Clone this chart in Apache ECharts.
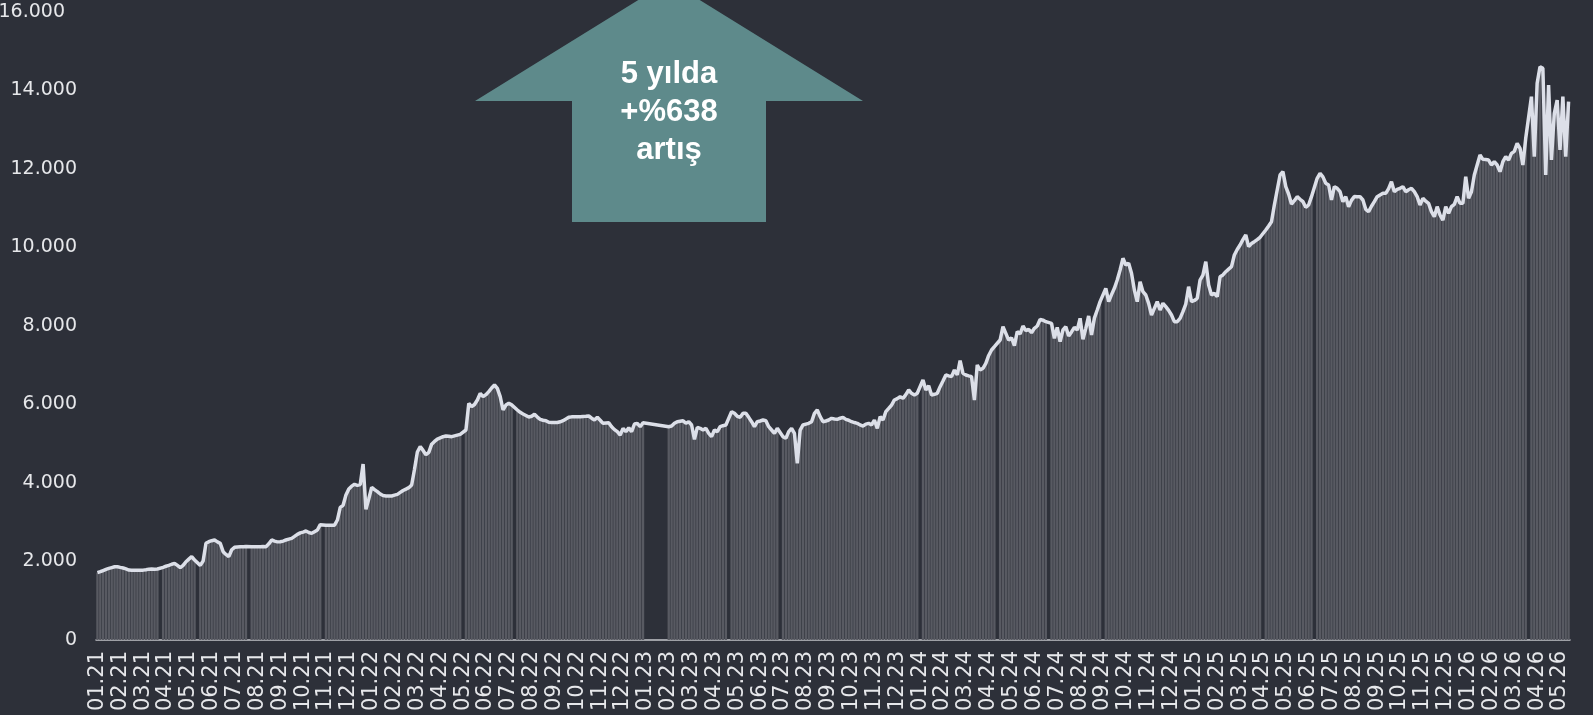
<!DOCTYPE html>
<html>
<head>
<meta charset="utf-8">
<title>5 yılda +%638 artış</title>
<script src="https://cdn.jsdelivr.net/npm/echarts@6/dist/echarts.min.js"></script>
<style>
  html, body { margin: 0; padding: 0; background: #2d3039; }
  #chart { width: 1593px; height: 715px; }
</style>
</head>
<body>
<div id="chart"></div>
<script>
  // x ekseni: ay etiketleri
  const monthLabels = [
    '01.21','02.21','03.21','04.21','05.21','06.21','07.21','08.21','09.21','10.21','11.21','12.21',
    '01.22','02.22','03.22','04.22','05.22','06.22','07.22','08.22','09.22','10.22','11.22','12.22',
    '01.23','02.23','03.23','04.23','05.23','06.23','07.23','08.23','09.23','10.23','11.23','12.23',
    '01.24','02.24','03.24','04.24','05.24','06.24','07.24','08.24','09.24','10.24','11.24','12.24',
    '01.25','02.25','03.25','04.25','05.25','06.25','07.25','08.25','09.25','10.25','11.25','12.25',
    '01.26','02.26','03.26','04.26','05.26'
  ];

  // her ay icin ~8 okuma (null = tatil / veri yok)
  const values2021 = [
    [1715, 1740, 1770, 1800, 1825, 1845, 1865, 1868],
    [1850, 1834, 1810, 1783, 1780, 1775, 1775, 1778],
    [1780, 1790, 1805, 1810, 1805, 1810, null, 1850],
    [1880, 1900, 1930, 1953, 1900, 1843, 1900, 1995],
    [2060, 2123, 2038, null, 1902, 2013, 2463, 2505],
    [2530, 2548, 2500, 2463, 2250, 2180, 2123, 2300],
    [2361, 2370, 2378, 2378, 2380, null, 2378, 2375],
    [2375, 2378, 2380, 2378, 2450, 2548, 2520, 2500],
    [2505, 2520, 2548, 2570, 2590, 2640, 2692, 2730],
    [2750, 2777, 2740, 2718, 2760, 2802, 2938, null],
    [2922, 2922, 2925, 2925, 3057, 3380, 3431, 3694],
    [3850, 3920, 3966, 3940, 3960, 4484, 3329, 3600]
  ];
  const values2022 = [
    [3890, 3830, 3780, 3720, 3680, 3669, 3670, 3669],
    [3690, 3710, 3760, 3810, 3845, 3881, 3950, 4350],
    [4790, 4926, 4830, 4720, 4780, 4990, 5060, 5120],
    [5150, 5180, 5197, 5190, 5180, 5200, 5220, 5240],
    [null, 5350, 6030, 5944, 6000, 6115, 6285, 6199],
    [6250, 6327, 6420, 6497, 6412, 6199, 5860, 5987],
    [6030, 5990, null, 5860, 5800, 5758, 5720, 5680],
    [5700, 5750, 5680, 5622, 5600, 5588, 5546, 5540],
    [5540, 5540, 5560, 5588, 5630, 5673, 5685, 5690],
    [5690, 5690, 5695, 5700, 5707, 5650, 5605, 5673],
    [5600, 5520, 5530, 5537, 5435, 5360, 5307, 5223],
    [5393, 5307, 5410, 5307, 5503, 5520, 5435, 5537]
  ];
  const values2023 = [
    [null, null, null, null, null, null, null, null],
    [5435, 5450, 5520, 5562, 5575, 5588, 5520, 5562],
    [5478, 5113, 5418, 5393, 5350, 5393, 5265, 5180],
    [5350, 5308, 5435, 5460, 5478, null, 5817, 5775],
    [5700, 5673, 5775, 5775, 5673, 5562, 5435, 5562],
    [5580, 5605, 5588, 5435, 5350, 5265, 5393, null],
    [5180, 5138, 5308, 5393, 5265, 4501, 5350, 5478],
    [5500, 5520, 5562, 5775, 5860, 5690, 5562, 5580],
    [5605, 5647, 5630, 5622, 5650, 5673, 5622, 5600],
    [5562, 5540, 5520, 5480, 5452, 5500, 5520, 5478],
    [5605, 5393, 5690, 5605, 5817, 5900, 5987, 6115],
    [6150, 6199, 6157, 6250, 6369, 6285, 6242, 6285]
  ];
  const values2024 = [
    [null, 6624, 6369, 6480, 6242, 6260, 6285, 6454],
    [6600, 6752, 6730, 6709, 6879, 6752, 7116, 6794],
    [6752, 6730, 6709, 6115, 7006, 6879, 6922, 7049],
    [7250, 7389, 7473, null, 7643, 7982, 7813, 7640],
    [7700, 7500, 7855, 7800, 8000, 7881, 7915, 7830],
    [7941, 8000, 8170, 8150, 8110, null, 8068, 7686],
    [7966, 7601, 7898, 7983, 7745, 7850, 7966, 7898],
    [8195, 7661, 7941, 8255, 7771, 8200, 8408, 8620],
    [null, 8960, 8620, 8800, 8960, 9172, 9427, 9725],
    [9554, 9597, 9342, 8917, 8620, 9130, 8874, 8790],
    [8578, 8280, 8450, 8620, 8408, 8578, 8493, 8400],
    [8280, 8110, 8110, 8195, 8365, 8560, 9002, 8620]
  ];
  const values2025 = [
    [8650, 8705, 9172, 9299, 9639, 9045, 8790, 8833],
    [8747, 9256, 9300, 9384, 9450, 9511, 9809, 9950],
    [10064, 10200, 10318, 10021, 10100, 10148, 10200, 10260],
    [null, 10446, 10550, 10658, 11083, 11465, 11847, 11932],
    [11550, 11363, 11108, 11193, 11295, 11230, 11168, 11024],
    [11083, 11295, null, 11762, 11890, 11800, 11635, 11592],
    [11210, 11550, 11508, 11422, 11168, 11295, 11040, 11200],
    [11300, 11295, 11295, 11210, 10972, 10913, 11050, 11168],
    [11295, 11338, 11380, 11380, 11500, 11677, 11422, 11480],
    [11508, 11550, 11422, 11470, 11508, 11422, 11295, 11083],
    [11253, 11180, 11125, 10913, 10785, 11040, 10828, 10700],
    [11040, 10870, 11040, 11100, 11295, 11125, 11125, 11805]
  ];
  const values2026 = [
    [11253, 11422, 11847, 12100, 12357, 12246, 12240, 12229],
    [12102, 12187, 12102, 11932, 12187, 12314, 12229, 12399],
    [12450, 12654, 12527, 12102, 12781, null, 13843, 12314],
    [14183, 14607, 14565, 11847, 14140, 12229, 13418, 13758],
    [12484, 13843, 12314, 13715]
  ];

  // y ekseni
  const yMin = 0;
  const yMax = 16000;
  const yStep = 2000;

  const allMonths = [].concat(values2021, values2022, values2023, values2024, values2025, values2026);
  const categories = [];
  const seriesData = [];
  allMonths.forEach(function (month, i) {
    month.forEach(function (v, k) {
      categories.push(monthLabels[i] + '_' + k);
      seriesData.push(v);
    });
  });
  // sadece ayin ilk gunu etiket ve tik alir
  const monthStart = function (index, value) {
    return String(value).split('_')[1] === '0';
  };

  const labelFont = '"DejaVu Sans", Verdana, sans-serif';

  const chart = echarts.init(document.getElementById('chart'));
  chart.setOption({
    backgroundColor: '#2d3039',
    animation: false,
    grid: { left: 96, right: 23, top: 12, bottom: 75, outerBoundsMode: 'none' },
    xAxis: {
      type: 'category',
      data: categories,
      axisLine: { lineStyle: { color: '#c3c5ca', width: 1.5 } },
      axisTick: { interval: monthStart, alignWithLabel: true, length: 6, lineStyle: { color: '#c3c5ca' } },
      axisLabel: {
        interval: monthStart,
        rotate: 90,
        margin: 11,
        color: '#e6e7ea',
        fontFamily: labelFont,
        fontSize: 21,
        formatter: function (value) { return value.split('_')[0]; }
      }
    },
    yAxis: {
      type: 'value',
      min: yMin,
      max: yMax,
      interval: yStep,
      splitLine: { show: false },
      axisLine: { show: false },
      axisTick: { show: false },
      axisLabel: {
        margin: 19,
        color: '#e6e7ea',
        fontFamily: labelFont,
        fontSize: 19,
        formatter: function (v) {
          const s = v === 0 ? '0' : (v / 1000).toFixed(3);
          return v === yMax ? '{top|' + s + '}' : s;
        },
        rich: {
          top: { color: '#e6e7ea', fontFamily: labelFont, fontSize: 19, padding: [0, 12, 0, 0] }
        }
      }
    },
    series: [
      {
        name: 'bar',
        type: 'bar',
        data: seriesData,
        barCategoryGap: '18%',
        itemStyle: { color: '#585a62' }
      },
      {
        name: 'line',
        type: 'line',
        data: seriesData,
        connectNulls: true,
        showSymbol: false,
        symbol: 'none',
        lineStyle: { color: '#dcdfe8', width: 3.5 },
        z: 3
      }
    ],
    // yukari ok ve metin
    graphic: [
      {
        type: 'polygon',
        shape: { points: [[669, -19], [475, 101], [572, 101], [572, 222], [766, 222], [766, 101], [863, 101]] },
        style: { fill: '#5e8a8b' },
        z: 10
      },
      {
        type: 'text',
        x: 669,
        y: 112,
        style: {
          text: '5 yılda\n+%638\nartış',
          fill: '#ffffff',
          font: 'bold 31px "Liberation Sans", Arial, sans-serif',
          lineHeight: 38,
          align: 'center',
          verticalAlign: 'middle'
        },
        z: 11
      }
    ]
  });
</script>
</body>
</html>
